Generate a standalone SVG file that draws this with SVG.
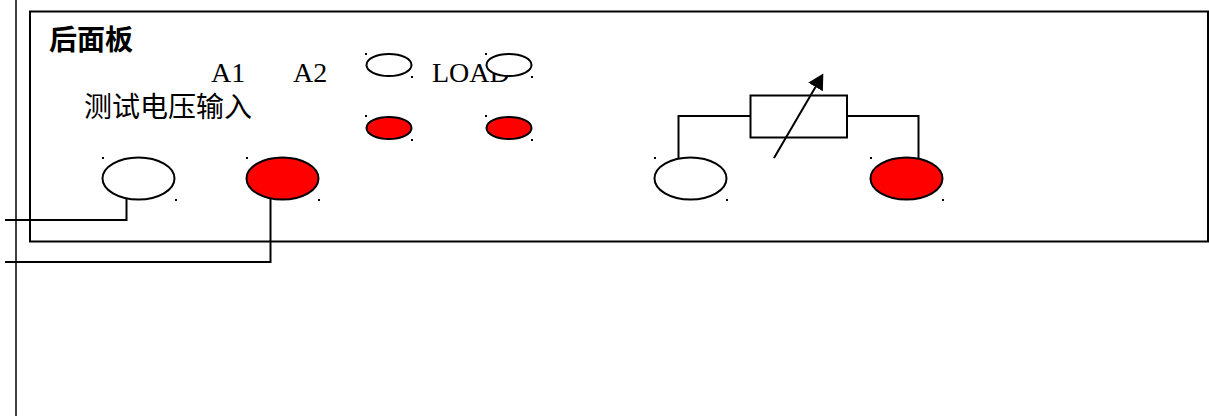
<svg xmlns="http://www.w3.org/2000/svg" width="1209" height="416" viewBox="0 0 1209 416">
<style>
.l{fill:none;stroke:#000;stroke-width:2}
.e{stroke:#000;stroke-width:2}
.w{fill:#fff}
.r{fill:#f00}
.d{fill:#000}
.c{font-family:"Noto Sans CJK SC",sans-serif;font-size:28px;fill:#000}
.s{font-family:"Liberation Serif",serif;font-size:28px;fill:#000}
</style>
<defs>
<marker id="arrow" markerUnits="userSpaceOnUse" markerWidth="16" markerHeight="18" refX="0" refY="8.500" orient="auto"><path d="M0 0L15.500 8.500L0 17Z" fill="#000"/></marker>
</defs>
<g id="frame-line"><line x1="16" y1="0" x2="16" y2="416" stroke="#000" stroke-width="1.500"/></g>
<g id="panel"><rect x="30" y="11.500" width="1178" height="230" fill="none" stroke="#000" stroke-width="2"/></g>
<g id="connectors">
<path class="l" d="M5 220H126.500V199"/>
<path class="l" d="M5 262H270.500V199"/>
<path class="l" d="M678.500 158V116H751"/>
<path class="l" d="M847 116H918.500V158"/>
<path class="l" d="M774 158L815.500 87" marker-end="url(#arrow)"/>
</g>
<g id="resistor"><rect class="l" x="750.500" y="95.500" width="96.500" height="42"/></g>
<g id="title"><text x="49" y="50" class="c" font-weight="700">后面板</text></g>
<g id="label-a1"><text x="211" y="82" class="s">A1</text></g>
<g id="label-a2"><text x="293" y="82" class="s">A2</text></g>
<g id="label-input"><text x="84" y="117" class="c">测试电压输入</text></g>
<g id="label-load"><text x="432" y="82" class="s">LOAD</text></g>
<g id="t1"><ellipse class="e w" cx="138.500" cy="178.500" rx="36" ry="21"/><rect class="d" x="102" y="157" width="2" height="2"/><rect class="d" x="175" y="199" width="2" height="2"/></g>
<g id="t2"><ellipse class="e r" cx="282.500" cy="178.500" rx="36" ry="21"/><rect class="d" x="246" y="157" width="2" height="2"/><rect class="d" x="318" y="199" width="2" height="2"/></g>
<g id="t3"><ellipse class="e w" cx="690.500" cy="178.500" rx="36" ry="21"/><rect class="d" x="654" y="157" width="2" height="2"/><rect class="d" x="726" y="199" width="2" height="2"/></g>
<g id="t4"><ellipse class="e r" cx="906.500" cy="178.500" rx="36" ry="21"/><rect class="d" x="870" y="157" width="2" height="2"/><rect class="d" x="942" y="199" width="2" height="2"/></g>
<g id="s1"><ellipse class="e" fill="none" cx="389" cy="65" rx="22.500" ry="11"/><rect class="d" x="365" y="53" width="2" height="2"/><rect class="d" x="411" y="76" width="2" height="2"/></g>
<g id="s2"><ellipse class="e w" cx="509" cy="65" rx="22.500" ry="11"/><rect class="d" x="485" y="53" width="2" height="2"/><rect class="d" x="531" y="76" width="2" height="2"/></g>
<g id="s3"><ellipse class="e r" cx="389" cy="128" rx="22.500" ry="11"/><rect class="d" x="365" y="115" width="2" height="2"/><rect class="d" x="411" y="139" width="2" height="2"/></g>
<g id="s4"><ellipse class="e r" cx="509" cy="128" rx="22.500" ry="11"/><rect class="d" x="485" y="115" width="2" height="2"/><rect class="d" x="531" y="139" width="2" height="2"/></g>
</svg>
